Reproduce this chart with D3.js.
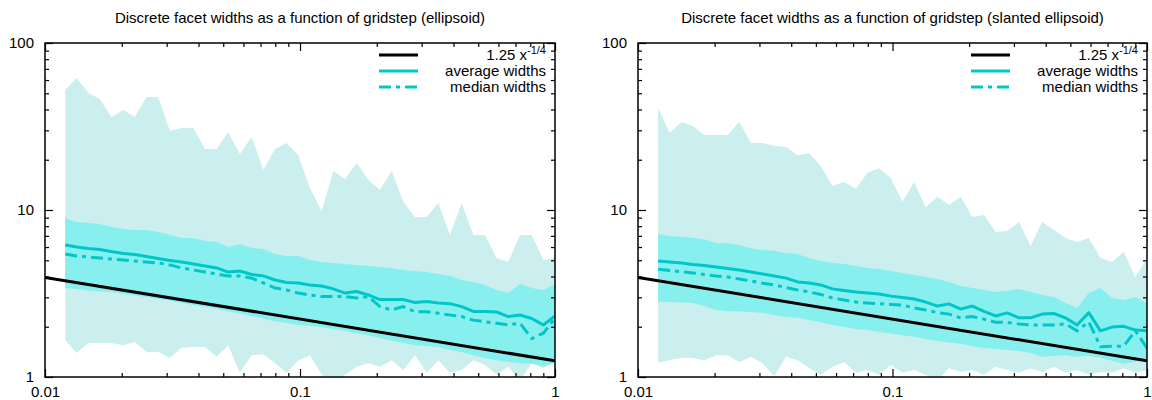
<!DOCTYPE html>
<html>
<head>
<meta charset="utf-8">
<script src="https://cdn.jsdelivr.net/npm/d3@7"></script>
<style>
  body { margin: 0; background: #ffffff; }
  svg { display: block; font-family: 'Liberation Sans', Arial, Helvetica, sans-serif; }
  .title { font-size: 15px; text-anchor: middle; }
  .axis text { font-size: 15px; fill: #000; font-family: 'Liberation Sans', Arial, sans-serif; }
  .axis line { stroke: #000; stroke-width: 1.2; }
  .legend text { font-size: 15px; text-anchor: end; }
</style>
</head>
<body>
<svg width="1152" height="400"></svg>
<script>
// gridstep values (x axis), shared by both panels
const gridstep = [0.0120, 0.0133, 0.0148, 0.0164, 0.0182, 0.0203, 0.0225, 0.0250, 0.0278, 0.0309,
  0.0343, 0.0382, 0.0424, 0.0471, 0.0523, 0.0581, 0.0646, 0.0718, 0.0798, 0.0886,
  0.0985, 0.1094, 0.1216, 0.1351, 0.1501, 0.1668, 0.1853, 0.2059, 0.2288, 0.2542,
  0.2824, 0.3138, 0.3487, 0.3874, 0.4305, 0.4783, 0.5314, 0.5905, 0.6561, 0.729,
  0.81, 0.9, 1]

// ellipsoid: outer band (min..max), inner band, average and median widths
const ellMax = [52.3, 61.7, 50.2, 46.2, 36.1, 39.7, 36.1, 47.5, 47.5, 29.7, 31.0, 31.0, 23.2, 23.2, 29.3, 21.6, 27.4, 17.4, 23.2, 25.2, 21.3, 13.5, 9.86, 17.1, 15.3, 19.1, 15.1, 13.2, 17.1, 11.2, 9.08, 9.08, 11.0, 7.09, 11.0, 7.09, 7.09, 5.16, 4.88, 7.09, 7.09, 5.02, 5.16]
const ellHi = [8.96, 8.48, 8.36, 8.25, 7.91, 7.70, 7.59, 7.59, 7.38, 7.09, 6.80, 6.80, 6.52, 6.43, 6.00, 6.26, 5.92, 5.84, 5.45, 5.30, 5.30, 5.02, 4.88, 4.82, 4.75, 4.69, 4.62, 4.56, 4.50, 4.37, 4.31, 4.25, 4.14, 4.03, 3.81, 3.71, 3.56, 3.32, 3.18, 3.60, 3.41, 3.32, 3.60]
const ellAvg = [6.17, 6.00, 5.88, 5.80, 5.64, 5.49, 5.41, 5.27, 5.12, 4.99, 4.88, 4.75, 4.62, 4.50, 4.25, 4.31, 4.11, 4.03, 3.81, 3.68, 3.66, 3.56, 3.51, 3.37, 3.18, 3.25, 3.10, 2.91, 2.91, 2.91, 2.79, 2.83, 2.77, 2.75, 2.64, 2.47, 2.47, 2.45, 2.30, 2.35, 2.24, 2.05, 2.32]
const ellMed = [5.45, 5.30, 5.23, 5.16, 5.09, 5.02, 4.95, 4.88, 4.82, 4.69, 4.50, 4.37, 4.25, 4.14, 4.03, 4.03, 3.91, 3.66, 3.41, 3.32, 3.18, 3.10, 3.03, 3.03, 3.03, 2.97, 3.03, 2.64, 2.52, 2.64, 2.46, 2.46, 2.41, 2.35, 2.30, 2.19, 2.14, 2.10, 2.05, 2.10, 1.70, 1.83, 2.25]
const ellLo = [3.41, 3.37, 3.30, 3.25, 3.23, 3.14, 3.08, 3.01, 2.93, 2.87, 2.77, 2.70, 2.63, 2.55, 2.47, 2.40, 2.32, 2.24, 2.16, 2.11, 2.05, 2.02, 1.99, 1.94, 1.89, 1.83, 1.78, 1.71, 1.65, 1.60, 1.55, 1.53, 1.51, 1.45, 1.41, 1.35, 1.30, 1.26, 1.23, 1.21, 1.20, 1.16, 1.21]
const ellMin = [1.67, 1.39, 1.60, 1.60, 1.60, 1.55, 1.62, 1.41, 1.41, 1.30, 1.49, 1.51, 1.51, 1.32, 1.55, 1.06, 1.35, 1.37, 1.21, 1.06, 1.26, 1.35, 1.03, 0.95, 1.03, 1.15, 1.21, 1.15, 1.26, 1.10, 1.35, 1.06, 1.26, 1.06, 1.10, 1.26, 1.18, 1.03, 1.15, 0.95, 1.21, 1.13, 1.26]

// slanted ellipsoid
const slMax = [40.8, 28.9, 33.6, 31.8, 28.1, 28.1, 28.1, 33.6, 25.2, 25.2, 24.2, 23.8, 21.3, 21.9, 18.3, 13.9, 14.7, 13.4, 16.7, 17.8, 15.5, 11.2, 14.7, 10.4, 12.0, 10.7, 12.0, 9.08, 9.33, 7.38, 7.48, 8.48, 6.09, 8.48, 7.59, 6.80, 6.43, 6.80, 5.16, 4.88, 5.61, 3.97, 5.16]
const slHi = [7.18, 6.99, 6.92, 6.83, 6.68, 6.32, 6.32, 6.17, 5.90, 5.76, 5.71, 5.50, 5.45, 5.14, 4.95, 4.82, 4.75, 4.62, 4.50, 4.43, 4.31, 4.20, 4.08, 3.97, 3.86, 3.71, 3.51, 3.41, 3.32, 3.23, 3.27, 3.37, 3.23, 3.10, 3.01, 2.77, 2.59, 3.18, 3.41, 2.97, 2.89, 3.01, 2.77]
const slAvg = [4.95, 4.88, 4.82, 4.72, 4.65, 4.56, 4.46, 4.37, 4.25, 4.14, 4.03, 3.91, 3.71, 3.66, 3.56, 3.37, 3.30, 3.23, 3.18, 3.14, 3.05, 2.99, 2.93, 2.81, 2.66, 2.74, 2.55, 2.66, 2.47, 2.32, 2.42, 2.26, 2.26, 2.38, 2.40, 2.26, 2.05, 2.43, 1.89, 1.99, 2.01, 1.91, 1.89]
const slMed = [4.42, 4.34, 4.27, 4.20, 4.11, 4.03, 3.97, 3.86, 3.76, 3.64, 3.56, 3.43, 3.32, 3.23, 3.12, 2.97, 2.89, 2.81, 2.77, 2.75, 2.72, 2.70, 2.59, 2.52, 2.43, 2.38, 2.26, 2.30, 2.22, 2.13, 2.12, 2.08, 2.05, 2.05, 2.05, 2.08, 1.89, 2.14, 1.52, 1.53, 1.53, 1.89, 1.49]
const slLo = [2.82, 2.81, 2.79, 2.77, 2.66, 2.52, 2.48, 2.48, 2.45, 2.42, 2.35, 2.29, 2.26, 2.19, 2.13, 2.05, 1.99, 1.94, 1.91, 1.86, 1.82, 1.78, 1.74, 1.69, 1.64, 1.61, 1.58, 1.53, 1.49, 1.47, 1.45, 1.43, 1.39, 1.32, 1.34, 1.35, 1.32, 1.34, 1.30, 1.25, 1.20, 1.23, 1.26]
const slMin = [1.22, 1.26, 1.30, 1.30, 1.26, 1.35, 1.35, 1.23, 1.32, 1.21, 1.01, 1.32, 1.26, 1.13, 1.03, 1.15, 1.23, 1.06, 1.10, 1.03, 1.18, 1.06, 1.10, 1.03, 0.95, 1.13, 1.07, 1.10, 1.03, 1.15, 1.10, 1.06, 1.13, 1.07, 1.15, 1.06, 1.10, 1.03, 1.07, 1.06, 1.13, 1.06, 1.10]

// reference curve 1.25 x^-1/4, read at the two ends of the x range
const fitX = [0.01, 1]
const fitY = [3.95, 1.25]

// axis ticks and labels
const xMajor = [0.01, 0.1, 1]
const xLabels = ['0.01', '0.1', '1']
const yMajor = [1, 10, 100]
const yLabels = ['1', '10', '100']
const legendLabels = ['1.25 x', 'average widths', 'median widths']

const lightBand = '#cbeeee'
const darkBand = '#88efef'
const cyan = '#00c6c8'

// minor ticks: 2..9 within each decade
function minorTicks(majors) {
  const out = []
  majors.slice(0, -1).forEach(d => {
    for (let m = 2; m < 10; m++) out.push(d * m)
  })
  return out
}

const svg = d3.select('svg')

const panels = [
  { title: 'Discrete facet widths as a function of gridstep (ellipsoid)', left: 45, right: 555,
    max: ellMax, hi: ellHi, avg: ellAvg, med: ellMed, lo: ellLo, min: ellMin },
  { title: 'Discrete facet widths as a function of gridstep (slanted ellipsoid)', left: 638, right: 1147,
    max: slMax, hi: slHi, avg: slAvg, med: slMed, lo: slLo, min: slMin }
]
const plotTop = 43
const plotBottom = 377

panels.forEach((p, pi) => {
  const x = d3.scaleLog().domain([0.01, 1]).range([p.left, p.right])
  const y = d3.scaleLog().domain([1, 100]).range([plotBottom, plotTop])

  const g = svg.append('g').attr('class', 'panel')

  // clip everything to the plot box
  const clipId = 'clip' + pi
  g.append('clipPath').attr('id', clipId)
    .append('rect')
    .attr('x', p.left).attr('y', plotTop)
    .attr('width', p.right - p.left).attr('height', plotBottom - plotTop)

  const plot = g.append('g').attr('clip-path', `url(#${clipId})`)

  const band = (lo, hi) => d3.area()
    .x((d, i) => x(gridstep[i]))
    .y0((d, i) => y(lo[i]))
    .y1((d, i) => y(hi[i]))(gridstep)

  // outer band (min..max) then inner band
  plot.append('path').attr('d', band(p.min, p.max)).style('fill', lightBand)
  plot.append('path').attr('d', band(p.lo, p.hi)).style('fill', darkBand)

  const line = d3.line()
    .x(d => x(d[0]))
    .y(d => y(d[1]))

  plot.append('path')
    .datum(d3.zip(fitX, fitY))
    .attr('d', line)
    .style('fill', 'none').style('stroke', '#000').style('stroke-width', 3)

  plot.append('path')
    .datum(d3.zip(gridstep, p.avg))
    .attr('d', line)
    .style('fill', 'none').style('stroke', cyan).style('stroke-width', 3)
    .style('stroke-linejoin', 'round')

  plot.append('path')
    .datum(d3.zip(gridstep, p.med))
    .attr('d', line)
    .style('fill', 'none').style('stroke', cyan).style('stroke-width', 3)
    .style('stroke-dasharray', '12,5,4,5')

  // axes: major ticks with labels, minor ticks without, all pointing inwards
  const addAxis = (axis, tr) => {
    const a = g.append('g').attr('class', 'axis').attr('transform', tr).call(axis)
    a.select('.domain').remove()
    return a
  }
  addAxis(d3.axisBottom(x).tickValues(xMajor).tickSize(-8).tickPadding(9)
    .tickFormat((d, i) => xLabels[i]), `translate(0,${plotBottom})`)
  addAxis(d3.axisBottom(x).tickValues(minorTicks(xMajor)).tickSize(-4).tickFormat(''), `translate(0,${plotBottom})`)
  addAxis(d3.axisTop(x).tickValues(xMajor).tickSize(-8).tickFormat(''), `translate(0,${plotTop})`)
  addAxis(d3.axisTop(x).tickValues(minorTicks(xMajor)).tickSize(-4).tickFormat(''), `translate(0,${plotTop})`)
  addAxis(d3.axisLeft(y).tickValues(yMajor).tickSize(-8).tickPadding(11)
    .tickFormat((d, i) => yLabels[i]), `translate(${p.left},0)`)
  addAxis(d3.axisLeft(y).tickValues(minorTicks(yMajor)).tickSize(-4).tickFormat(''), `translate(${p.left},0)`)
  addAxis(d3.axisRight(y).tickValues(yMajor).tickSize(-8).tickFormat(''), `translate(${p.right},0)`)
  addAxis(d3.axisRight(y).tickValues(minorTicks(yMajor)).tickSize(-4).tickFormat(''), `translate(${p.right},0)`)

  // plot border
  g.append('rect')
    .attr('x', p.left).attr('y', plotTop)
    .attr('width', p.right - p.left).attr('height', plotBottom - plotTop)
    .style('fill', 'none').style('stroke', '#000').style('stroke-width', 1.5)

  g.append('text')
    .attr('class', 'title')
    .attr('x', (p.left + p.right) / 2)
    .attr('y', 23)
    .text(p.title)

  // legend, top right inside the box
  const legend = g.append('g').attr('class', 'legend')
  const styles = [
    { stroke: '#000', dash: null },
    { stroke: cyan, dash: null },
    { stroke: cyan, dash: '12,5,4,5' }
  ]
  legendLabels.forEach((label, i) => {
    const ry = 55 + i * 16
    legend.append('line')
      .attr('x1', p.right - 176).attr('x2', p.right - 137)
      .attr('y1', ry).attr('y2', ry)
      .style('stroke', styles[i].stroke).style('stroke-width', 3)
      .style('stroke-dasharray', styles[i].dash)
    const t = legend.append('text')
      .attr('x', p.right - 9)
      .attr('y', ry + 5)
      .text(label)
    if (i === 0) {
      t.append('tspan').attr('dy', -6).style('font-size', '11px').text('-1/4')
    }
  })
})
</script>
</body>
</html>
